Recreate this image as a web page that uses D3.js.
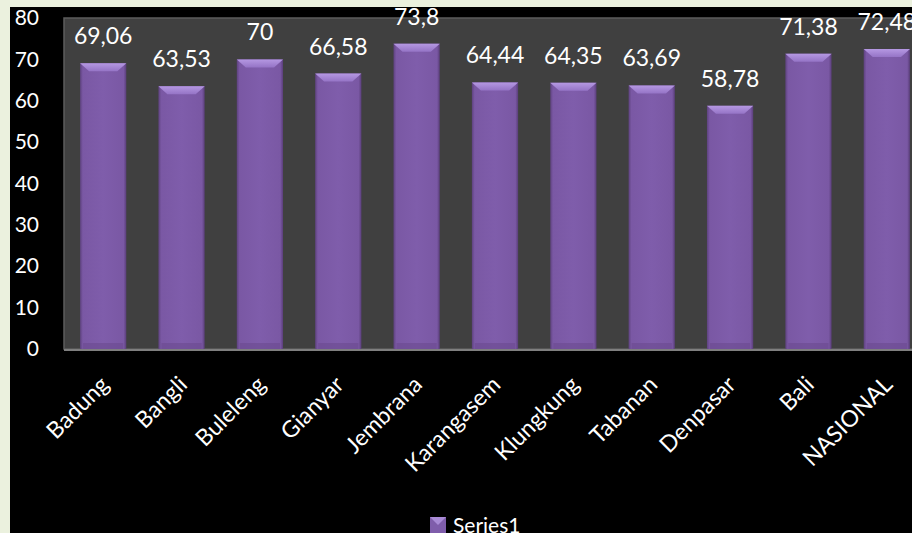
<!DOCTYPE html>
<html>
<head>
<meta charset="utf-8">
<script src="https://cdn.jsdelivr.net/npm/d3@7"></script>
<style>
  body { margin: 0; background: #ebf1de; }
  svg { display: block; font-family: Lato, "Open Sans", sans-serif; }
</style>
</head>
<body>
<div id="chart"></div>
<script>
// data
var categories = ["Badung", "Bangli", "Buleleng", "Gianyar", "Jembrana", "Karangasem",
  "Klungkung", "Tabanan", "Denpasar", "Bali", "NASIONAL"];
var values = [69.06, 63.53, 70, 66.58, 73.8, 64.44, 64.35, 63.69, 58.78, 71.38, 72.48];
var labels = ["69,06", "63,53", "70", "66,58", "73,8", "64,44", "64,35", "63,69", "58,78", "71,38", "72,48"];
var yTicks = [0, 10, 20, 30, 40, 50, 60, 70, 80];
var seriesName = "Series1";

var svgWidth = 912;
var svgHeight = 533;

var plot = { left: 64, top: 18, right: 926, bottom: 349 };

var svg = d3.select("#chart")
  .append("svg")
  .attr("width", svgWidth)
  .attr("height", svgHeight);

var defs = svg.append("defs");

var barGrad = defs.append("linearGradient")
  .attr("id", "barGrad")
  .attr("x1", "0").attr("x2", "1").attr("y1", "0").attr("y2", "0");
barGrad.append("stop").attr("offset", "0").attr("stop-color", "#5e427f");
barGrad.append("stop").attr("offset", "0.06").attr("stop-color", "#7a58a4");
barGrad.append("stop").attr("offset", "0.5").attr("stop-color", "#7f5dab");
barGrad.append("stop").attr("offset", "0.94").attr("stop-color", "#7a58a4");
barGrad.append("stop").attr("offset", "1").attr("stop-color", "#5a3e7a");

var bevelGrad = defs.append("linearGradient")
  .attr("id", "bevelGrad")
  .attr("x1", "0").attr("x2", "0").attr("y1", "0").attr("y2", "1");
bevelGrad.append("stop").attr("offset", "0").attr("stop-color", "#b598e2");
bevelGrad.append("stop").attr("offset", "1").attr("stop-color", "#9574c6");

// outer chart area
svg.append("rect")
  .attr("x", 10)
  .attr("y", 7)
  .attr("width", svgWidth - 10)
  .attr("height", svgHeight - 7)
  .attr("fill", "#000");

// plot area
svg.append("rect")
  .attr("x", plot.left)
  .attr("y", plot.top)
  .attr("width", plot.right - plot.left)
  .attr("height", plot.bottom - plot.top)
  .attr("fill", "#404040")
  .attr("stroke", "#5c5c5c")
  .attr("stroke-width", 1.5);

var x = d3.scaleBand()
  .domain(categories)
  .range([plot.left, plot.right])
  .paddingInner(0.41)
  .paddingOuter(0.205);

var y = d3.scaleLinear()
  .domain([0, 80])
  .range([plot.bottom, plot.top]);

// y axis labels
var yAxis = svg.append("g")
  .attr("transform", "translate(39,0)")
  .call(d3.axisLeft(y).tickValues(yTicks).tickSize(0).tickPadding(0));
yAxis.select(".domain").remove();
yAxis.selectAll("text")
  .attr("fill", "#fff")
  .attr("font-size", 21)
  .attr("font-family", "Lato, sans-serif");

// bars
var bars = svg.append("g").selectAll("g")
  .data(values)
  .enter()
  .append("g");

bars.append("rect")
  .attr("x", (d, i) => x(categories[i]))
  .attr("y", d => y(d))
  .attr("width", x.bandwidth())
  .attr("height", d => y(0) - y(d))
  .attr("fill", "url(#barGrad)");

bars.append("rect")
  .attr("x", (d, i) => x(categories[i]) + 3)
  .attr("y", y(0) - 6)
  .attr("width", x.bandwidth() - 6)
  .attr("height", 6)
  .attr("fill", "#6a4a90")
  .attr("opacity", 0.6);

bars.append("polygon")
  .attr("points", function(d, i) {
    var x0 = x(categories[i]);
    var x1 = x0 + x.bandwidth();
    var t = y(d);
    return [[x0, t], [x1, t], [x1 - 9, t + 8], [x0 + 9, t + 8]].join(" ");
  })
  .attr("fill", "url(#bevelGrad)");

// value labels
svg.append("g").selectAll("text")
  .data(values)
  .enter()
  .append("text")
  .attr("x", (d, i) => x(categories[i]) + x.bandwidth() / 2)
  .attr("y", d => y(d) - 19)
  .attr("text-anchor", "middle")
  .attr("fill", "#fff")
  .attr("font-size", 23)
  .text((d, i) => labels[i]);

// x axis line
svg.append("line")
  .attr("x1", plot.left)
  .attr("x2", plot.right)
  .attr("y1", y(0) + 1)
  .attr("y2", y(0) + 1)
  .attr("stroke", "#7f7f7f")
  .attr("stroke-width", 2);

// category labels
svg.append("g").selectAll("text")
  .data(categories)
  .enter()
  .append("text")
  .attr("transform", d => `translate(${x(d) + x.bandwidth() / 2 + 7}, 386) rotate(-45)`)
  .attr("text-anchor", "end")
  .attr("fill", "#fff")
  .attr("font-size", 23)
  .text(d => d);

// legend
var legend = svg.append("g");
legend.append("rect")
  .attr("x", 430)
  .attr("y", 517)
  .attr("width", 16)
  .attr("height", 16)
  .attr("fill", "#7f5dab");
legend.append("polygon")
  .attr("points", "430,517 446,517 438,525")
  .attr("fill", "#a98bd6");
legend.append("text")
  .attr("x", 453)
  .attr("y", 533)
  .attr("fill", "#fff")
  .attr("font-size", 21)
  .text(seriesName);
</script>
</body>
</html>
